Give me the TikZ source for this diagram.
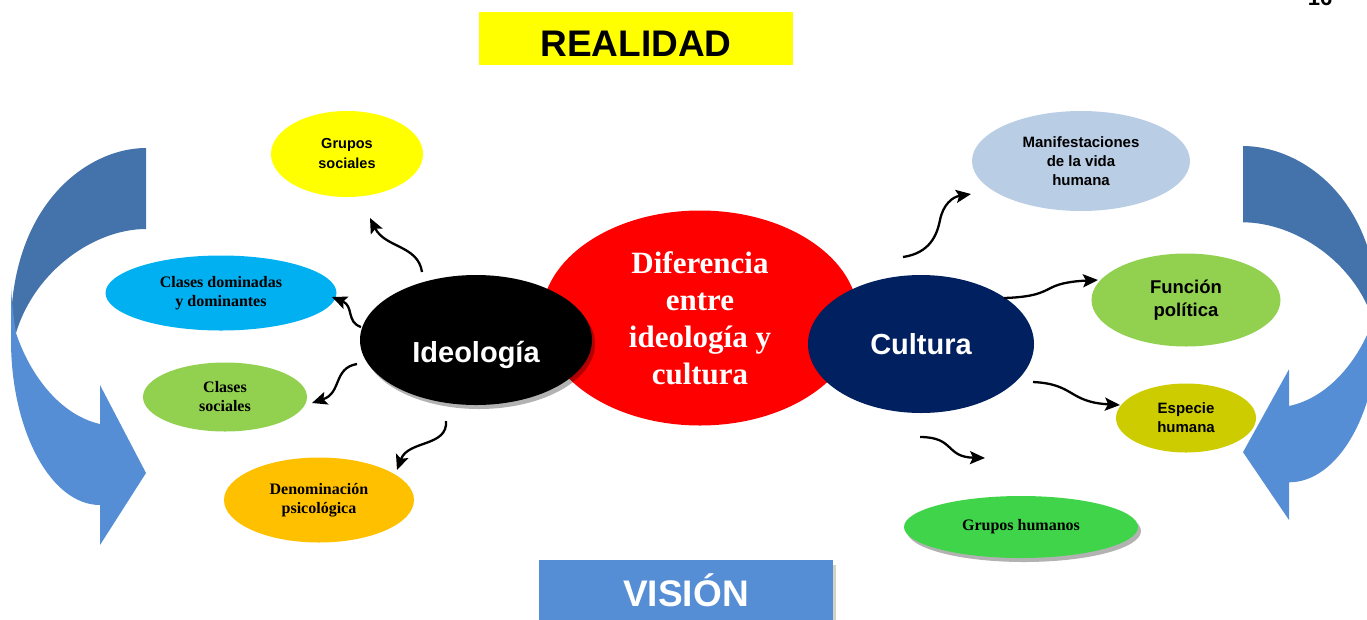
\documentclass[tikz,border=0pt]{standalone}
\usepackage{fontspec}
\setmainfont{Liberation Serif}
\newfontfamily\arialf{Liberation Sans}
\usetikzlibrary{shapes.geometric,arrows.meta,shadows}
\newcommand\fsz[2]{\fontsize{#1}{#2}\selectfont}
\definecolor{arrdark}{HTML}{4472AA}
\definecolor{arrlight}{HTML}{558ED5}
\definecolor{yel}{HTML}{FFFF00}
\definecolor{cyanc}{HTML}{00B0F0}
\definecolor{greenc}{HTML}{92D050}
\definecolor{orangec}{HTML}{FFC000}
\definecolor{lblue}{HTML}{B9CDE5}
\definecolor{olivec}{HTML}{CCCC00}
\definecolor{bgreen}{HTML}{40D44A}
\definecolor{redc}{HTML}{FF0000}
\definecolor{navy}{HTML}{002060}
\definecolor{shadowc}{RGB}{166,166,140}
\tikzset{
  sat/.style={ellipse, inner sep=0pt, align=center},
  wavy/.style={line width=2.3pt, -{Stealth[length=15pt,width=13pt,inset=3pt]}},
  softshadow/.style={drop shadow={shadow xshift=3pt, shadow yshift=-4pt, fill=black, opacity=0.3}},
  bigarrow/.pic={
    \fill[arrdark] (146,148) .. controls (90,148) and (15,200) .. (11,320)
      -- (16,333) .. controls (35,270) and (95,229) .. (146,229) -- cycle;
    \fill[arrlight] (11,287) .. controls (12,305) and (14,320) .. (16,333)
      .. controls (30,375) and (60,415) .. (100,424) -- (100,385) -- (146,473)
      -- (100,545) -- (100,505) .. controls (51,505) and (11,431) .. (11,340) -- cycle;
  },
}
\begin{document}
\begin{tikzpicture}[x=1pt,y=-1pt]
\useasboundingbox (0,0) rectangle (1367,619);

% big curved arrows
\pic[transform shape] at (0,0) {bigarrow};
\begin{scope}[xshift=1389pt,yshift=-6.6pt,xscale=-1,yscale=0.942]
  \pic[transform shape] at (0,0) {bigarrow};
\end{scope}

% page number (cut off)
\node[font=\arialf\bfseries\fsz{22}{26}, anchor=base, inner sep=0pt] (pagenum) at (1320,5) {16};

% title boxes
\node[fill=yel, minimum width=314pt, minimum height=53pt, inner sep=0pt,
      font=\arialf\bfseries\fsz{37}{44}, text height=36.5pt, text depth=0pt] (real) at (636,38.5) {REALIDAD};
\node[fill=arrlight, minimum width=294pt, minimum height=60pt, inner sep=0pt,
      drop shadow={shadow xshift=3pt, shadow yshift=-5pt, fill=shadowc},
      text=white, font=\arialf\bfseries\fsz{37}{44}] (vis) at (686,590) {VISIÓN};

% central ellipses
\node[sat, fill=redc, minimum width=317pt, minimum height=215pt, text=white,
      font=\bfseries\fsz{31}{37}] (dif) at (700,318) {Diferencia\\entre\\ideología y\\cultura};
\node[sat, fill=black, minimum width=232pt, minimum height=130pt, softshadow,
      text=white, font=\arialf\bfseries\fsz{29}{34}, text height=44.8pt, text depth=0pt] (ideo) at (476,340) {Ideología};
\node[sat, fill=navy, minimum width=226pt, minimum height=138pt, text=white,
      font=\arialf\bfseries\fsz{29}{34}] (cult) at (921,344) {Cultura};

% left satellites
\node[sat, fill=yel, minimum width=152pt, minimum height=86pt, font=\arialf\bfseries\fsz{14.5}{20}] (gsoc) at (347,154) {Grupos\\sociales};
\node[sat, fill=cyanc, minimum width=231pt, minimum height=75pt, font=\bfseries\fsz{16}{19}] (cdom) at (221,293) {Clases dominadas\\y dominantes};
\node[sat, fill=greenc, minimum width=164pt, minimum height=69pt, font=\bfseries\fsz{16}{19}] (csoc) at (225,397) {Clases\\sociales};
\node[sat, fill=orangec, minimum width=190pt, minimum height=85pt, font=\bfseries\fsz{16}{19}] (deno) at (319,500) {Denominación\\psicológica};

% right satellites
\node[sat, fill=lblue, minimum width=218pt, minimum height=100pt, font=\arialf\bfseries\fsz{15}{19}] (mani) at (1081,161) {Manifestaciones\\de la vida\\humana};
\node[sat, fill=greenc, minimum width=189pt, minimum height=93pt, font=\arialf\bfseries\fsz{18.5}{23}] (func) at (1186,300) {Función\\política};
\node[sat, fill=olivec, minimum width=140pt, minimum height=69pt, font=\arialf\bfseries\fsz{15}{19}] (espe) at (1186,418) {Especie\\humana};
\node[sat, fill=bgreen, minimum width=234pt, minimum height=62pt, softshadow,
      font=\bfseries\fsz{16}{19}] (ghum) at (1021,527) {Grupos humanos};

% arrow ends
\coordinate (s1) at (422,272); \coordinate (t1) at (370,218);
\coordinate (s2) at (361,327); \coordinate (t2) at (332,297);
\coordinate (s3) at (357,364); \coordinate (t3) at (312,403);
\coordinate (s4) at (446,421); \coordinate (t4) at (397,470);
\coordinate (s5) at (903,257); \coordinate (t5) at (971,194);
\coordinate (s6) at (1004,298); \coordinate (t6) at (1098,280);
\coordinate (s7) at (1033,382); \coordinate (t7) at (1120,405);
\coordinate (s8) at (920,437); \coordinate (t8) at (985,458);

\draw[wavy] (s1) .. controls (418,245) and (385,248) .. (t1);
\draw[wavy] (s2) .. controls (346,322) and (354,306) .. (t2);
\draw[wavy] (s3) .. controls (333,368) and (342,393) .. (t3);
\draw[wavy] (s4) .. controls (448,447) and (408,440) .. (t4);
\draw[wavy] (s5) .. controls (930,253) and (937,235) .. (940,220) .. controls (943,205) and (952,197) .. (t5);
\draw[wavy] (s6) .. controls (1040,297) and (1045,290) .. (1055,286) .. controls (1065,282) and (1078,281) .. (t6);
\draw[wavy] (s7) .. controls (1075,384) and (1068,402) .. (t7);
\draw[wavy] (s8) .. controls (955,437) and (945,457) .. (t8);
\end{tikzpicture}
\end{document}
